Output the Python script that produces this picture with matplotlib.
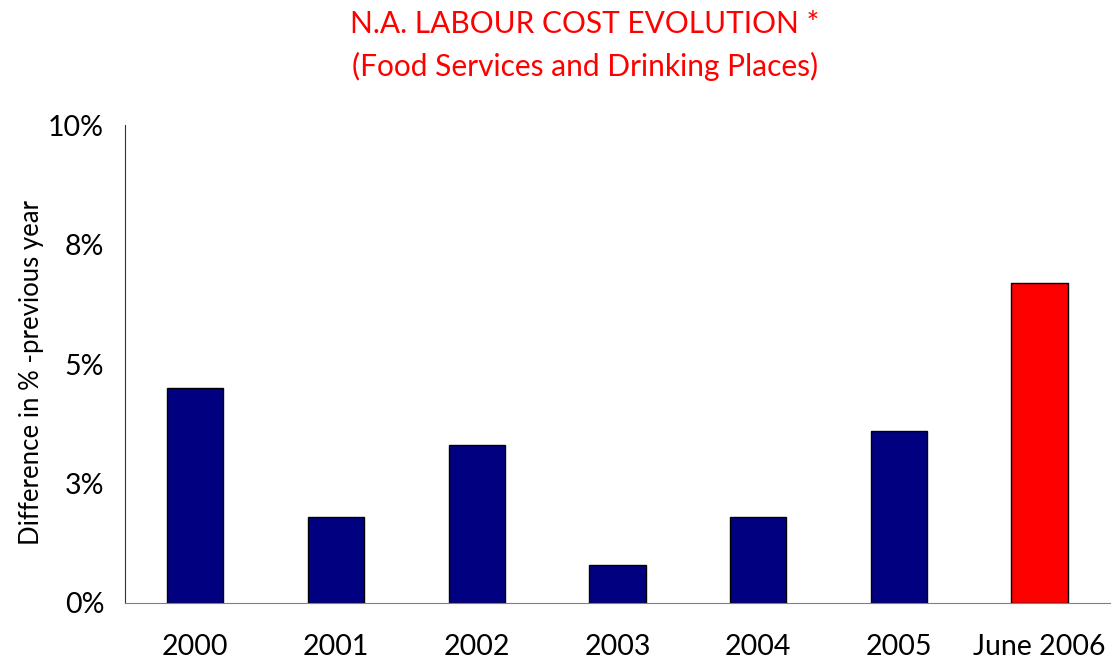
import numpy as np
import matplotlib.pyplot as plt

plt.rcParams['font.family'] = ['Lato', 'DejaVu Sans']

years = ['2000', '2001', '2002', '2003', '2004', '2005', 'June 2006']
values = [4.5, 1.8, 3.3, 0.8, 1.8, 3.6, 6.7]
colors = ['#000080'] * 6 + ['#ff0000']

fig = plt.figure(figsize=(11.12, 6.66), dpi=100)
ax = fig.add_axes([0.1124, 0.0946, 0.8856, 0.7177])

x = np.arange(len(years))
ax.bar(x, values, width=0.4, color=colors, edgecolor='black', linewidth=1)

ax.set_xlim(-0.5, len(years) - 0.5)
ax.set_ylim(0, 10)
ax.set_yticks([0, 2.5, 5, 7.5, 10])
ax.set_yticklabels(['0%', '3%', '5%', '8%', '10%'])
ax.set_xticks(x)
ax.set_xticklabels(years)
ax.tick_params(axis='both', length=0, labelsize=20.5, colors='black')
ax.tick_params(axis='x', pad=22)
ax.tick_params(axis='y', pad=15)

ax.spines['top'].set_visible(False)
ax.spines['right'].set_visible(False)
ax.spines['left'].set_color('#333333')
ax.spines['bottom'].set_color('#808080')

fig.text(0.028, 0.441, 'Difference in % -previous year', rotation=90,
         ha='center', va='center', fontsize=18.5)

fig.text(0.526, 0.932, 'N.A. LABOUR COST EVOLUTION *\n(Food Services and Drinking Places)',
         ha='center', va='center', color='#ff0000', fontsize=21.5, linespacing=1.6)

fig.savefig('out.png', dpi=100)
